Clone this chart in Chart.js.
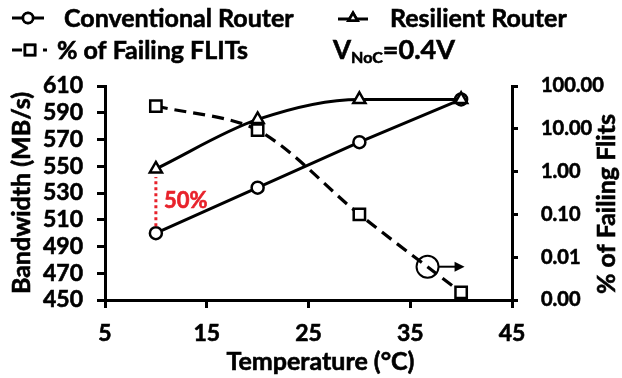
<!DOCTYPE html>
<html>
<head>
<meta charset="utf-8">
<script src="https://cdn.jsdelivr.net/npm/chart.js@4.4.1/dist/chart.umd.min.js"></script>
<style>
  html, body { margin: 0; padding: 0; background: #fff; }
  #wrap { width: 622px; height: 378px; position: relative; }
</style>
</head>
<body>
<div id="wrap"><canvas id="c" width="622" height="378"></canvas></div>
<script>
// ---- data ----
const temperatures = [10, 20, 30, 40];
const conventionalBW = [500, 534, 568, 600];
const resilientBW = [548, 585, 600, 600];
const failingFlits = [34, 9.3, 0.1, 0.0015];
const xTickValues = [5, 15, 25, 35, 45];
const leftTickValues = [450, 470, 490, 510, 530, 550, 570, 590, 610];
const rightTickValues = [0.001, 0.01, 0.1, 1, 10, 100];
const seriesNames = ['Conventional Router', 'Resilient Router', '% of Failing FLITs'];
const gainLabel = '50%';
const arrowAtTemp = 36.7;

const FONT = 'Lato, "Open Sans", "DejaVu Sans", sans-serif';
const toPts = (ys) => temperatures.map((t, i) => ({ x: t, y: ys[i] }));

function tickOpts(values) {
  return function (scale) { scale.ticks = values.map(v => ({ value: v })); };
}

function boldText(ctx, txt, x, y) {
  ctx.fillText(txt, x, y);
  ctx.lineWidth = 0.6;
  ctx.strokeStyle = ctx.fillStyle;
  ctx.strokeText(txt, x, y);
}

const overlay = {
  id: 'overlay',
  afterDatasetsDraw(chart) {
    const ctx = chart.ctx;
    const xs = chart.scales.x, yl = chart.scales.y, yr = chart.scales.y2;
    ctx.save();
    // red dotted gain line
    const gx = xs.getPixelForValue(temperatures[0]);
    ctx.strokeStyle = '#e8222b';
    ctx.lineWidth = 3;
    ctx.setLineDash([3, 3]);
    ctx.beginPath();
    ctx.moveTo(gx, yl.getPixelForValue(conventionalBW[0]) - 7);
    ctx.lineTo(gx, yl.getPixelForValue(resilientBW[0]) + 8);
    ctx.stroke();
    ctx.setLineDash([]);
    ctx.fillStyle = '#e8222b';
    ctx.font = 'bold 22px ' + FONT;
    ctx.textAlign = 'left';
    ctx.textBaseline = 'middle';
    const gy = (yl.getPixelForValue(conventionalBW[0]) + yl.getPixelForValue(resilientBW[0])) / 2;
    boldText(ctx, gainLabel, gx + 8, gy);

    // circle + arrow pointing to right axis
    const i0 = 2, i1 = 3;
    const f = (arrowAtTemp - temperatures[i0]) / (temperatures[i1] - temperatures[i0]);
    const lv = Math.log10(failingFlits[i0]) + f * (Math.log10(failingFlits[i1]) - Math.log10(failingFlits[i0]));
    const cx = xs.getPixelForValue(arrowAtTemp), cy = yr.getPixelForValue(Math.pow(10, lv));
    ctx.strokeStyle = '#000';
    ctx.lineWidth = 2;
    ctx.beginPath();
    ctx.arc(cx, cy, 11, 0, Math.PI * 2);
    ctx.stroke();
    ctx.beginPath();
    ctx.moveTo(cx + 11, cy);
    ctx.lineTo(cx + 30, cy);
    ctx.stroke();
    ctx.fillStyle = '#000';
    ctx.beginPath();
    ctx.moveTo(cx + 37, cy);
    ctx.lineTo(cx + 27, cy - 5);
    ctx.lineTo(cx + 27, cy + 5);
    ctx.closePath();
    ctx.fill();
    ctx.restore();
  },
  afterDraw(chart) {
    const ctx = chart.ctx;
    const ca = chart.chartArea;
    ctx.save();
    ctx.fillStyle = '#000';
    // axis titles
    ctx.font = 'bold 25px ' + FONT;
    ctx.textAlign = 'center';
    ctx.textBaseline = 'middle';
    boldText(ctx, 'Temperature (°C)', (ca.left + ca.right) / 2 + 12, 362);
    ctx.save();
    ctx.translate(22, (ca.top + ca.bottom) / 2);
    ctx.rotate(-Math.PI / 2);
    boldText(ctx, 'Bandwidth (MB/s)', 0, 0);
    ctx.restore();
    ctx.save();
    ctx.translate(607, 204);
    ctx.rotate(-Math.PI / 2);
    boldText(ctx, '% of Failing Flits', 0, 0);
    ctx.restore();

    // legend
    ctx.textAlign = 'left';
    ctx.textBaseline = 'middle';
    const drawMarker = (style, x, y) => {
      ctx.fillStyle = '#fff';
      ctx.strokeStyle = '#000';
      Chart.helpers.drawPoint(ctx, { pointStyle: style, radius: style === 'rect' ? 7 : 5, borderWidth: 2.5 }, x, y);
      ctx.fill();
      ctx.lineWidth = 2.5;
      ctx.stroke();
    };
    const seg = (x1, x2, y) => {
      ctx.strokeStyle = '#000';
      ctx.lineWidth = 3;
      ctx.beginPath(); ctx.moveTo(x1, y); ctx.lineTo(x2, y); ctx.stroke();
    };
    seg(12, 44, 18);
    drawMarker('circle', 28, 18);
    seg(338, 368, 19);
    drawMarker('triangle', 353, 18);
    seg(12, 22, 50); seg(43, 47, 50);
    drawMarker('rect', 30, 50);
    ctx.fillStyle = '#000';
    ctx.font = 'bold 25px ' + FONT;
    boldText(ctx, seriesNames[0], 64, 19);
    boldText(ctx, seriesNames[1], 390, 19);
    boldText(ctx, seriesNames[2], 57, 51);
    // V_NoC label
    let x = 333;
    ctx.textBaseline = 'alphabetic';
    ctx.font = 'bold 26px ' + FONT;
    boldText(ctx, 'V', x, 59); x += ctx.measureText('V').width;
    ctx.font = 'bold 16px ' + FONT;
    boldText(ctx, 'NoC', x, 63); x += ctx.measureText('NoC').width;
    ctx.font = 'bold 27px ' + FONT;
    boldText(ctx, '=0.4V', x, 59);
    ctx.restore();
  }
};

const axisGrid = (len) => ({ display: true, drawOnChartArea: false, color: '#000', lineWidth: 3, tickLength: len });
const tickFont = { family: FONT, size: 23, weight: 'bold' };
const tickBase = { color: '#000', font: tickFont, autoSkip: false, textStrokeColor: '#000', textStrokeWidth: 0.6 };

new Chart(document.getElementById('c'), {
  type: 'line',
  data: {
    datasets: [
      {
        label: seriesNames[1], data: toPts(resilientBW), yAxisID: 'y',
        borderColor: '#000', borderWidth: 3, cubicInterpolationMode: 'monotone',
        pointStyle: 'triangle', pointRadius: 7, pointBorderWidth: 2.5,
        pointBackgroundColor: '#fff', pointBorderColor: '#000', order: 1
      },
      {
        label: seriesNames[0], data: toPts(conventionalBW), yAxisID: 'y',
        borderColor: '#000', borderWidth: 3, tension: 0,
        pointStyle: 'circle', pointRadius: 6, pointBorderWidth: 2.5,
        pointBackgroundColor: '#fff', pointBorderColor: '#000', order: 2
      },
      {
        label: seriesNames[2], data: toPts(failingFlits), yAxisID: 'y2',
        borderColor: '#000', borderWidth: 3.2, borderDash: [12, 7], tension: 0.3,
        pointStyle: 'rect', pointRadius: 8, pointBorderWidth: 2.5,
        pointBackgroundColor: '#fff', pointBorderColor: '#000', order: 3
      }
    ]
  },
  options: {
    responsive: false,
    animation: false,
    devicePixelRatio: 1,
    layout: { padding: { top: 86, left: 0, right: 0, bottom: 0 } },
    plugins: { legend: { display: false }, tooltip: { enabled: false } },
    scales: {
      x: {
        type: 'linear', min: 5, max: 45,
        afterBuildTicks: tickOpts(xTickValues),
        afterFit: (s) => { s.height = 78; },
        border: { color: '#000', width: 3 },
        grid: axisGrid(8),
        ticks: Object.assign({}, tickBase, { padding: 12, maxRotation: 0 })
      },
      y: {
        type: 'linear', position: 'left', min: 450, max: 610,
        afterBuildTicks: tickOpts(leftTickValues),
        afterFit: (s) => { s.width = 105; },
        border: { color: '#000', width: 3 },
        grid: axisGrid(8),
        ticks: Object.assign({}, tickBase, { padding: 14 })
      },
      y2: {
        type: 'logarithmic', position: 'right', min: 0.001, max: 100,
        afterBuildTicks: tickOpts(rightTickValues),
        afterFit: (s) => { s.width = 110; },
        border: { color: '#000', width: 3 },
        grid: axisGrid(6),
        ticks: Object.assign({}, tickBase, {
          padding: 23, font: { family: FONT, size: 20, weight: 'bold' },
          callback: (v) => Number(v).toFixed(2)
        })
      }
    }
  },
  plugins: [overlay]
});
</script>
</body>
</html>
